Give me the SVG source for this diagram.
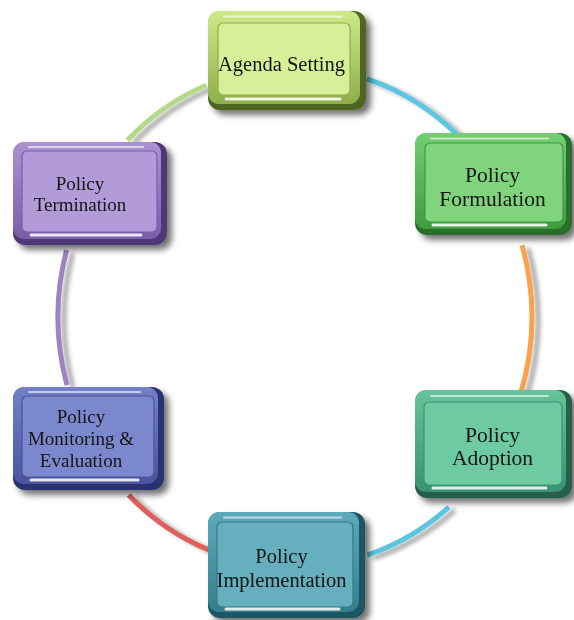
<svg xmlns="http://www.w3.org/2000/svg" width="574" height="620" viewBox="0 0 574 620">
<defs>
<filter id="sh" x="-20%" y="-20%" width="150%" height="150%">
<feGaussianBlur in="SourceAlpha" stdDeviation="3"/>
<feOffset dx="5" dy="5" result="b"/>
<feComponentTransfer><feFuncA type="linear" slope="0.55"/></feComponentTransfer>
<feMerge><feMergeNode/><feMergeNode in="SourceGraphic"/></feMerge>
</filter>
<filter id="lsh" x="-30%" y="-30%" width="160%" height="160%">
<feGaussianBlur in="SourceAlpha" stdDeviation="2"/>
<feOffset dx="6" dy="3" result="b"/>
<feComponentTransfer><feFuncA type="linear" slope="0.35"/></feComponentTransfer>
<feMerge><feMergeNode/><feMergeNode in="SourceGraphic"/></feMerge>
</filter>
<linearGradient id="gA" x1="0" y1="0" x2="0" y2="1"><stop offset="0" stop-color="#cde98a"/><stop offset="1" stop-color="#8fae4a"/></linearGradient>
<linearGradient id="gF" x1="0" y1="0" x2="0" y2="1"><stop offset="0" stop-color="#74cf72"/><stop offset="1" stop-color="#3f9c40"/></linearGradient>
<linearGradient id="gD" x1="0" y1="0" x2="0" y2="1"><stop offset="0" stop-color="#66c49c"/><stop offset="1" stop-color="#3a9272"/></linearGradient>
<linearGradient id="gI" x1="0" y1="0" x2="0" y2="1"><stop offset="0" stop-color="#5eaabb"/><stop offset="1" stop-color="#357e8e"/></linearGradient>
<linearGradient id="gM" x1="0" y1="0" x2="0" y2="1"><stop offset="0" stop-color="#7481c8"/><stop offset="1" stop-color="#4a559c"/></linearGradient>
<linearGradient id="gT" x1="0" y1="0" x2="0" y2="1"><stop offset="0" stop-color="#ab92d3"/><stop offset="1" stop-color="#7a5ea8"/></linearGradient>
</defs>
<style>
.arc{fill:none;stroke-width:5;}
.hl1{fill:none;stroke:#ffffff;stroke-opacity:0.6;stroke-width:2;stroke-linecap:round;}
.hl2{fill:none;stroke:#ffffff;stroke-opacity:0.85;stroke-width:3;stroke-linecap:round;}
.lbl{font-family:"Liberation Serif","Times New Roman",serif;fill:#141414;text-anchor:middle;}
</style>

<g id="connectors" filter="url(#lsh)">
<path class="arc" stroke="#5bc5e2" d="M367,78.8 A237,250 0 0 1 456.9,134.5"/>
<path class="arc" stroke="#f9a24b" d="M522,245.2 A237,250 0 0 1 520.4,394.3"/>
<path class="arc" stroke="#5bc5e2" d="M448.9,507.1 A237,250 0 0 1 367.4,555"/>
<path class="arc" stroke="#df5f5a" d="M209.3,550.1 A237,250 0 0 1 128.6,495"/>
<path class="arc" stroke="#9d82c4" d="M67,385.1 A237,250 0 0 1 66.6,250.2"/>
<path class="arc" stroke="#b5d98a" d="M127.4,140.2 A237,250 0 0 1 206.2,85.2"/>
</g>

<g id="agenda-setting" transform="translate(208,11)" filter="url(#sh)">
<rect width="158" height="99" rx="12" fill="#4f6622"/>
<rect width="152" height="93" rx="11" fill="url(#gA)"/>
<rect x="10" y="12" width="132" height="72" rx="5" fill="#d6ef98" stroke="#8fac48" stroke-width="1.2"/>
<path class="hl1" d="M16,5.5 H134"/>
<path class="hl2" d="M18,88 H132"/>
<text class="lbl" x="73.5" y="60" font-size="20.5">Agenda Setting</text>
</g>

<g id="policy-formulation" transform="translate(415,133)" filter="url(#sh)">
<rect width="157" height="102" rx="12" fill="#2b6e2c"/>
<rect width="151" height="96" rx="11" fill="url(#gF)"/>
<rect x="10" y="10" width="138" height="79" rx="5" fill="#80d47e" stroke="#3f9a40" stroke-width="1.2"/>
<path class="hl1" d="M16,5.5 H133"/>
<path class="hl2" d="M18,92 H131"/>
<text class="lbl" x="77.5" y="49" font-size="21.5">Policy</text>
<text class="lbl" x="77.5" y="73" font-size="21.5">Formulation</text>
</g>

<g id="policy-adoption" transform="translate(415,390)" filter="url(#sh)">
<rect width="157" height="108" rx="12" fill="#285f4a"/>
<rect width="151" height="102" rx="11" fill="url(#gD)"/>
<rect x="9" y="12" width="138" height="83" rx="5" fill="#6dcaa2" stroke="#3c9474" stroke-width="1.2"/>
<path class="hl1" d="M16,6 H133"/>
<path class="hl2" d="M18,98 H131"/>
<text class="lbl" x="77.5" y="52" font-size="21.5">Policy</text>
<text class="lbl" x="77.5" y="75" font-size="21.5">Adoption</text>
</g>

<g id="policy-implementation" transform="translate(208,512)" filter="url(#sh)">
<rect width="157" height="106" rx="12" fill="#1f5663"/>
<rect width="151" height="100" rx="11" fill="url(#gI)"/>
<rect x="9" y="10" width="136" height="85" rx="5" fill="#65afbf" stroke="#337b8b" stroke-width="1.2"/>
<path class="hl1" d="M16,5.5 H133"/>
<path class="hl2" d="M18,97 H131"/>
<text class="lbl" x="73.5" y="51" font-size="20.5">Policy</text>
<text class="lbl" x="73.5" y="75" font-size="20.5">Implementation</text>
</g>

<g id="policy-monitoring-evaluation" transform="translate(13,387)" filter="url(#sh)">
<rect width="151" height="103" rx="12" fill="#2c3370"/>
<rect width="145" height="97" rx="11" fill="url(#gM)"/>
<rect x="9" y="9" width="132" height="81" rx="5" fill="#7c88cd" stroke="#4a559c" stroke-width="1.2"/>
<path class="hl1" d="M16,5 H127"/>
<path class="hl2" d="M18,93 H125"/>
<text class="lbl" x="68" y="36" font-size="19">Policy</text>
<text class="lbl" x="68" y="58" font-size="19">Monitoring &amp;</text>
<text class="lbl" x="68" y="80" font-size="19">Evaluation</text>
</g>

<g id="policy-termination" transform="translate(13,142)" filter="url(#sh)">
<rect width="154" height="103" rx="12" fill="#4f3978"/>
<rect width="148" height="97" rx="11" fill="url(#gT)"/>
<rect x="9" y="9" width="135" height="81" rx="5" fill="#b39ad8" stroke="#7a5ea8" stroke-width="1.2"/>
<path class="hl1" d="M16,5 H130"/>
<path class="hl2" d="M18,93 H128"/>
<text class="lbl" x="67" y="48" font-size="19">Policy</text>
<text class="lbl" x="67" y="69" font-size="19">Termination</text>
</g>
</svg>
